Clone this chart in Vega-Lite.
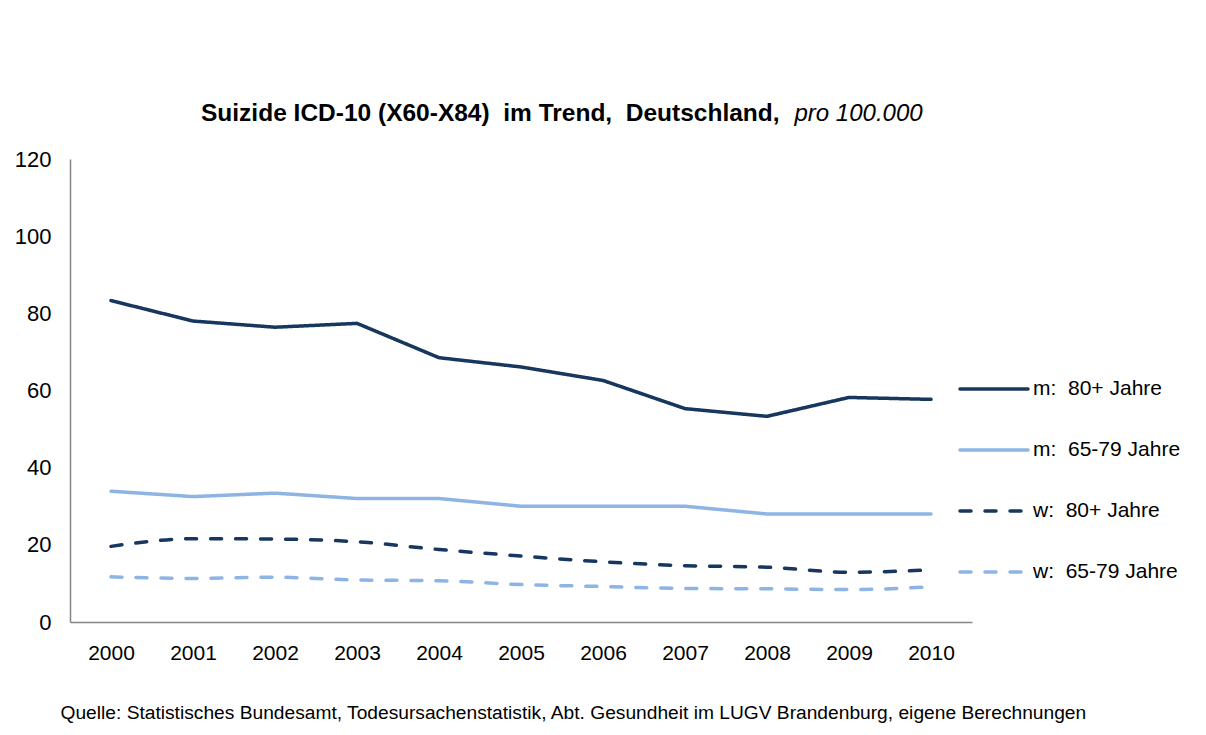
{
  "$schema": "https://vega.github.io/schema/vega-lite/v6.json",
  "autosize": "none",
  "width": 902,
  "height": 463,
  "padding": {"left": 70, "top": 159, "right": 234, "bottom": 113},
  "background": "white",
  "config": {
    "font": "Liberation Sans",
    "view": {"stroke": null},
    "axis": {"grid": false, "ticks": false, "tickSize": 0, "domainColor": "#868686", "domainWidth": 1.5, "labelColor": "#000000", "labelFont": "Liberation Sans"},
    "legend": {"labelFont": "Liberation Sans"}
  },
  "title": {
    "text": "Suizide ICD-10 (X60-X84)\u00a0 im Trend,\u00a0 Deutschland,",
    "anchor": "start",
    "frame": "group",
    "dx": 131,
    "offset": -44,
    "baseline": "alphabetic",
    "fontSize": 24.5,
    "fontWeight": "bold",
    "color": "#000000",
    "font": "Liberation Sans"
  },
  "data": {
    "values": [
      {"year": "2000", "series": "m:\u00a0 80+ Jahre", "value": 83.3},
      {"year": "2001", "series": "m:\u00a0 80+ Jahre", "value": 78.0},
      {"year": "2002", "series": "m:\u00a0 80+ Jahre", "value": 76.4},
      {"year": "2003", "series": "m:\u00a0 80+ Jahre", "value": 77.4},
      {"year": "2004", "series": "m:\u00a0 80+ Jahre", "value": 68.5},
      {"year": "2005", "series": "m:\u00a0 80+ Jahre", "value": 66.1},
      {"year": "2006", "series": "m:\u00a0 80+ Jahre", "value": 62.6},
      {"year": "2007", "series": "m:\u00a0 80+ Jahre", "value": 55.3},
      {"year": "2008", "series": "m:\u00a0 80+ Jahre", "value": 53.3},
      {"year": "2009", "series": "m:\u00a0 80+ Jahre", "value": 58.2},
      {"year": "2010", "series": "m:\u00a0 80+ Jahre", "value": 57.7},
      {"year": "2000", "series": "m:\u00a0 65-79 Jahre", "value": 33.9},
      {"year": "2001", "series": "m:\u00a0 65-79 Jahre", "value": 32.5},
      {"year": "2002", "series": "m:\u00a0 65-79 Jahre", "value": 33.4},
      {"year": "2003", "series": "m:\u00a0 65-79 Jahre", "value": 32.0},
      {"year": "2004", "series": "m:\u00a0 65-79 Jahre", "value": 32.0},
      {"year": "2005", "series": "m:\u00a0 65-79 Jahre", "value": 30.0},
      {"year": "2006", "series": "m:\u00a0 65-79 Jahre", "value": 30.0},
      {"year": "2007", "series": "m:\u00a0 65-79 Jahre", "value": 30.0},
      {"year": "2008", "series": "m:\u00a0 65-79 Jahre", "value": 28.0},
      {"year": "2009", "series": "m:\u00a0 65-79 Jahre", "value": 28.0},
      {"year": "2010", "series": "m:\u00a0 65-79 Jahre", "value": 28.0},
      {"year": "2000", "series": "w:\u00a0 80+ Jahre", "value": 19.6},
      {"year": "2001", "series": "w:\u00a0 80+ Jahre", "value": 21.6},
      {"year": "2002", "series": "w:\u00a0 80+ Jahre", "value": 21.5},
      {"year": "2003", "series": "w:\u00a0 80+ Jahre", "value": 20.8},
      {"year": "2004", "series": "w:\u00a0 80+ Jahre", "value": 18.8},
      {"year": "2005", "series": "w:\u00a0 80+ Jahre", "value": 17.1},
      {"year": "2006", "series": "w:\u00a0 80+ Jahre", "value": 15.6},
      {"year": "2007", "series": "w:\u00a0 80+ Jahre", "value": 14.6},
      {"year": "2008", "series": "w:\u00a0 80+ Jahre", "value": 14.2},
      {"year": "2009", "series": "w:\u00a0 80+ Jahre", "value": 12.9},
      {"year": "2010", "series": "w:\u00a0 80+ Jahre", "value": 13.5},
      {"year": "2000", "series": "w:\u00a0 65-79 Jahre", "value": 11.7},
      {"year": "2001", "series": "w:\u00a0 65-79 Jahre", "value": 11.3},
      {"year": "2002", "series": "w:\u00a0 65-79 Jahre", "value": 11.6},
      {"year": "2003", "series": "w:\u00a0 65-79 Jahre", "value": 10.9},
      {"year": "2004", "series": "w:\u00a0 65-79 Jahre", "value": 10.7},
      {"year": "2005", "series": "w:\u00a0 65-79 Jahre", "value": 9.7},
      {"year": "2006", "series": "w:\u00a0 65-79 Jahre", "value": 9.2},
      {"year": "2007", "series": "w:\u00a0 65-79 Jahre", "value": 8.7},
      {"year": "2008", "series": "w:\u00a0 65-79 Jahre", "value": 8.6},
      {"year": "2009", "series": "w:\u00a0 65-79 Jahre", "value": 8.4},
      {"year": "2010", "series": "w:\u00a0 65-79 Jahre", "value": 9.1}
    ]
  },
  "encoding": {
    "x": {
      "field": "year",
      "type": "ordinal",
      "scale": {"type": "point", "padding": 0.5},
      "axis": {
        "labelAngle": 0,
        "labelFontSize": 21,
        "labelPadding": 20,
        "title": "Quelle: Statistisches Bundesamt, Todesursachenstatistik, Abt. Gesundheit im LUGV Brandenburg, eigene Berechnungen",
        "titleFont": "Liberation Sans",
        "titleFontSize": 19.2,
        "titleFontWeight": "normal",
        "titleColor": "#000000",
        "titleAnchor": "start",
        "titleAlign": "left",
        "titleBaseline": "alphabetic",
        "titleX": -10,
        "titleY": 96
      }
    },
    "y": {
      "field": "value",
      "type": "quantitative",
      "scale": {"domain": [0, 120], "nice": false},
      "axis": {
        "values": [0, 20, 40, 60, 80, 100, 120],
        "labelFontSize": 22,
        "labelPadding": 19,
        "title": "pro 100.000",
        "titleFont": "Liberation Sans",
        "titleFontSize": 24,
        "titleFontWeight": "normal",
        "titleFontStyle": "italic",
        "titleColor": "#000000",
        "titleAngle": 0,
        "titleAlign": "left",
        "titleBaseline": "alphabetic",
        "titleX": 724,
        "titleY": -39
      }
    },
    "color": {
      "field": "series",
      "type": "nominal",
      "scale": {
        "domain": ["m:\u00a0 80+ Jahre", "m:\u00a0 65-79 Jahre", "w:\u00a0 80+ Jahre", "w:\u00a0 65-79 Jahre"],
        "range": ["#17375E", "#8EB4E3", "#17375E", "#8EB4E3"]
      },
      "legend": {
        "orient": "none",
        "legendX": 888,
        "legendY": 194,
        "title": null,
        "padding": 0,
        "symbolType": "stroke",
        "symbolSize": 4624,
        "symbolStrokeWidth": 3.5,
        "rowPadding": 15,
        "labelFontSize": 21,
        "labelOffset": 3,
        "labelColor": "#000000",
        "labelLimit": 300,
        "encode": {"symbols": {"update": {"strokeCap": {"value": "round"}}}}
      }
    },
    "strokeDash": {
      "field": "series",
      "type": "nominal",
      "scale": {
        "domain": ["m:\u00a0 80+ Jahre", "m:\u00a0 65-79 Jahre", "w:\u00a0 80+ Jahre", "w:\u00a0 65-79 Jahre"],
        "range": [[1, 0], [1, 0], [11, 14], [11, 14]]
      },
      "legend": null
    }
  },
  "layer": [
    {
      "transform": [{"filter": "indexof(datum.series, 'm:') == 0"}],
      "mark": {"type": "line", "strokeWidth": 3.5, "strokeCap": "round", "strokeJoin": "round"}
    },
    {
      "transform": [{"filter": "indexof(datum.series, 'w:') == 0"}],
      "mark": {"type": "line", "strokeWidth": 3.5, "strokeCap": "round", "interpolate": "monotone"}
    }
  ]
}
